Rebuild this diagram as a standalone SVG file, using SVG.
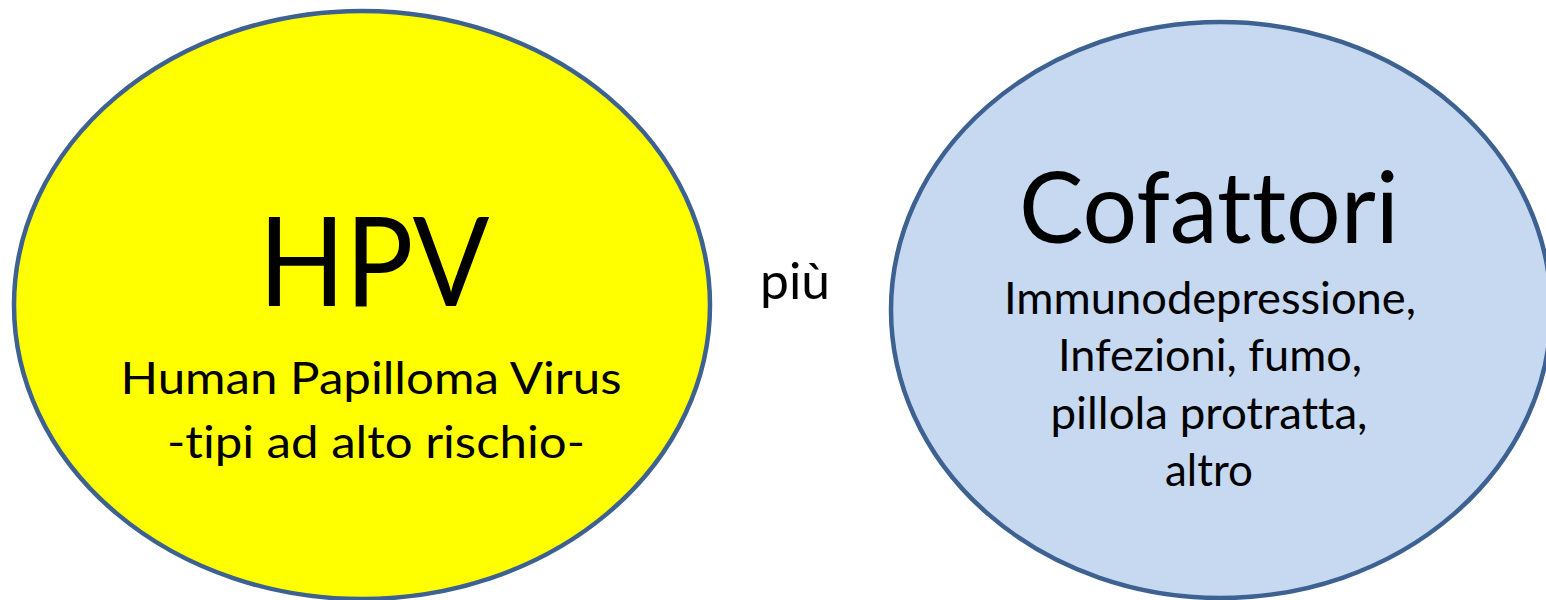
<svg xmlns="http://www.w3.org/2000/svg" width="1546" height="600" viewBox="0 0 1546 600">
<style>
.node{stroke:#3d6190;stroke-width:4.5}
.t{font-family:Lato,"Open Sans","Liberation Sans",sans-serif;fill:#000;text-anchor:middle;font-variant-ligatures:none;font-feature-settings:"liga" 0,"dlig" 0}
</style>
<rect width="1546" height="600" fill="#fff"/>
<g id="hpv">
<ellipse class="node" cx="362" cy="305" rx="348" ry="294" fill="#ffff00"/>
<text class="t" x="374" y="306" font-size="125" textLength="231" lengthAdjust="spacingAndGlyphs">HPV</text>
<text class="t" x="371" y="394" font-size="45" textLength="501" lengthAdjust="spacingAndGlyphs">Human Papilloma Virus</text>
<text class="t" x="376" y="458" font-size="45" textLength="418" lengthAdjust="spacingAndGlyphs">-tipi ad alto rischio-</text>
</g>
<g id="piu">
<text class="t" x="795" y="299" font-size="50" textLength="70" lengthAdjust="spacingAndGlyphs">più</text>
</g>
<g id="cofattori">
<ellipse class="node" cx="1221" cy="310" rx="330" ry="288" fill="#c6d9f1"/>
<text class="t" x="1209" y="243" font-size="99" textLength="380" lengthAdjust="spacingAndGlyphs">Cofattori</text>
<text class="t" x="1210" y="314" font-size="45" textLength="412" lengthAdjust="spacingAndGlyphs">Immunodepressione,</text>
<text class="t" x="1210" y="371" font-size="45" textLength="304" lengthAdjust="spacingAndGlyphs">Infezioni, fumo,</text>
<text class="t" x="1209" y="429" font-size="45" textLength="317" lengthAdjust="spacingAndGlyphs">pillola protratta,</text>
<text class="t" x="1209" y="486" font-size="45" textLength="88" lengthAdjust="spacingAndGlyphs">altro</text>
</g>
<g id="connectors"/>
</svg>
